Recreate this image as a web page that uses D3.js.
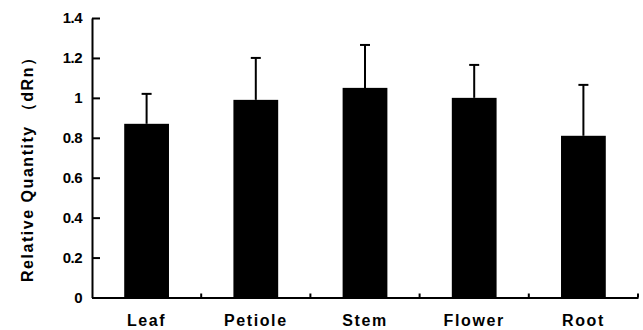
<!DOCTYPE html>
<html><head><meta charset="utf-8">
<script src="https://cdn.jsdelivr.net/npm/d3@7"></script>
<style>body{margin:0;background:#fff}svg{display:block}</style>
</head><body>
<script>
const categories = ["Leaf","Petiole","Stem","Flower","Root"];
const values = [0.87, 0.99, 1.05, 1.00, 0.81];
const errorTops = [1.02, 1.20, 1.265, 1.165, 1.065];
const yTicks = [0, 0.2, 0.4, 0.6, 0.8, 1, 1.2, 1.4];
const yTickLabels = ["0","0.2","0.4","0.6","0.8","1","1.2","1.4"];

const W = 643, H = 330;
const m = {left: 92, right: 5, top: 18, bottom: 33};
const svg = d3.select("body").append("svg").attr("width", W).attr("height", H);
const x = d3.scaleBand().domain(categories).range([m.left, 638]).paddingInner(0.59).paddingOuter(0.295);
const y = d3.scaleLinear().domain([0, 1.4]).range([H - m.bottom + 0.5, m.top]);

const font = "'Liberation Sans', Arial, sans-serif";

// bars
svg.selectAll("rect.bar").data(categories).enter().append("rect")
  .attr("x", d => x(d)).attr("width", x.bandwidth())
  .attr("y", (d,i) => y(values[i])).attr("height", (d,i) => y(0) - y(values[i]))
  .attr("fill", "#000");

// error bars
const eb = svg.selectAll("g.err").data(categories).enter().append("g");
eb.append("line")
  .attr("x1", d => x(d) + x.bandwidth()/2).attr("x2", d => x(d) + x.bandwidth()/2)
  .attr("y1", (d,i) => y(values[i])).attr("y2", (d,i) => y(errorTops[i]))
  .attr("stroke", "#000").attr("stroke-width", 2);
eb.append("line")
  .attr("x1", d => x(d) + x.bandwidth()/2 - 5).attr("x2", d => x(d) + x.bandwidth()/2 + 5)
  .attr("y1", (d,i) => y(errorTops[i])).attr("y2", (d,i) => y(errorTops[i]))
  .attr("stroke", "#000").attr("stroke-width", 2);

// y axis
const yAxis = d3.axisLeft(y).tickValues(yTicks).tickFormat((d,i) => yTickLabels[i]).tickSizeInner(-8).tickSizeOuter(0).tickPadding(10);
const gy = svg.append("g").attr("transform", `translate(${m.left},0)`).call(yAxis);
gy.select(".domain").attr("stroke-width", 2);
gy.selectAll(".tick line").attr("stroke-width", 2);
gy.selectAll(".tick text").attr("font-family", font).attr("font-weight", "bold").attr("font-size", 15).attr("fill", "#000").attr("letter-spacing", "-0.5");

// x axis
const xAxis = d3.axisBottom(x).tickSize(0).tickPadding(17);
const gx = svg.append("g").attr("transform", `translate(0,${y(0)})`).call(xAxis);
gx.select(".domain").attr("stroke-width", 2);
gx.selectAll(".tick text").attr("font-family", font).attr("font-weight", "bold").attr("font-size", 16).attr("fill", "#000").attr("letter-spacing", "1.6");
// boundary ticks
const bounds = categories.map(d => x(d) + x.bandwidth() + x.step()*x.paddingInner()/2);
svg.selectAll("line.bt").data(bounds).enter().append("line")
  .attr("x1", d => d).attr("x2", d => d).attr("y1", y(0)).attr("y2", y(0) - 4)
  .attr("stroke", "#000").attr("stroke-width", 2);

// y title
svg.append("text")
  .attr("transform", `translate(33,166) rotate(-90)`)
  .attr("text-anchor", "middle")
  .attr("font-family", font).attr("font-weight", "bold").attr("font-size", 16).attr("fill", "#000")
  .attr("textLength", 232).attr("lengthAdjust", "spacing")
  .text("Relative Quantity （dRn）");
</script>
</body></html>
